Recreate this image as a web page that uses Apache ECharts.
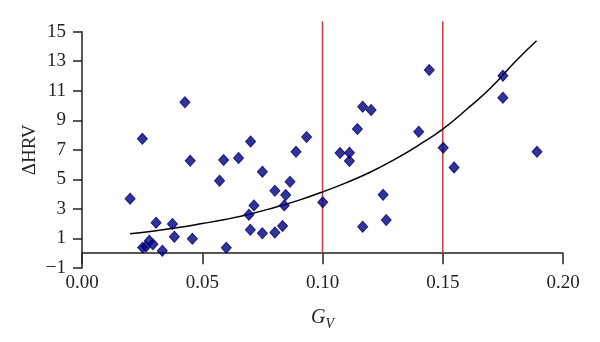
<!DOCTYPE html>
<html>
<head>
<meta charset="utf-8">
<script src="https://cdn.jsdelivr.net/npm/echarts@6/dist/echarts.min.js"></script>
<style>
html,body{margin:0;padding:0;background:#fff;}
#chart{width:600px;height:342px;}
</style>
</head>
<body>
<div id="chart"></div>
<script>
// Scatter data: G_V and ΔHRV
const gv = [0.020,0.0251,0.0252,0.0266,0.028,0.0295,0.0308,0.0334,0.0376,0.0384,0.0428,0.045,0.0459,
  0.0572,0.0589,0.060,0.0651,0.0694,0.0701,0.070,0.0715,0.075,0.075,0.0802,0.0802,0.0834,0.0841,0.0847,0.0865,
  0.089,0.0934,0.1001,0.1073,0.1112,0.1112,0.1145,0.1167,0.1167,0.1202,0.1252,0.1265,0.140,0.1444,0.1502,0.1547,
  0.175,0.175,0.1892];
const dhrv = [3.69,7.75,0.38,0.45,0.85,0.6,2.07,0.17,1.98,1.12,10.22,6.26,0.98,
  4.91,6.31,0.37,6.45,2.61,7.57,1.59,3.24,5.52,1.35,4.23,1.41,1.84,3.24,3.94,4.84,
  6.87,7.87,3.45,6.78,6.81,6.24,8.41,9.92,1.80,9.70,3.96,2.25,8.23,12.40,7.14,5.81,
  12.02,10.53,6.87];
// Trend curve points
const trendX = [0.020,0.030,0.040,0.050,0.060,0.070,0.080,0.090,0.100,0.110,0.120,0.130,0.140,0.150,0.160,0.170,0.180,0.189];
const trendY = [1.32,1.51,1.74,2.01,2.30,2.66,3.10,3.58,4.15,4.78,5.50,6.35,7.32,8.40,9.75,11.20,12.95,14.39];
// Red vertical threshold lines
const thresholds = [0.10, 0.15];
const thresholdSpan = [0, 15.7];
// Axis ticks
const yTicks = [-1,1,3,5,7,9,11,13,15];
const xTicks = [0.00,0.05,0.10,0.15,0.20];

const FONT = '"Liberation Serif", "DejaVu Serif", serif';
const chart = echarts.init(document.getElementById('chart'));

const series = [{
  type: 'scatter',
  data: gv.map((x,i)=>[x, dhrv[i]]),
  symbol: 'diamond',
  symbolSize: [10, 11],
  itemStyle: {color: '#000080', borderColor: '#000070', borderWidth: 1},
  z: 5
},{
  type: 'line',
  data: trendX.map((x,i)=>[x, trendY[i]]),
  smooth: true,
  showSymbol: false,
  lineStyle: {color: '#000', width: 1.5},
  clip: false,
  z: 4
}];
thresholds.forEach(t => {
  series.push({
    type: 'line',
    data: thresholdSpan.map(y => [t, y]),
    showSymbol: false,
    lineStyle: {color: '#d43a3a', width: 1.5},
    clip: false,
    z: 3
  });
});

chart.setOption({
  animation: false,
  backgroundColor: '#fff',
  grid: {left: 82, right: 37, top: 31.7, bottom: 74, outerBoundsMode: 'none', containLabel: false},
  xAxis: {
    type: 'value', min: 0, max: 0.2, interval: 0.05,
    axisLine: {onZero: true, lineStyle: {color: '#222', width: 1.5}},
    axisTick: {length: 11, lineStyle: {color: '#222', width: 1.5}},
    axisLabel: {margin: 6, color: '#222', fontFamily: FONT, fontSize: 19,
      formatter: v => v.toFixed(2)},
    splitLine: {show: false},
    name: '{i|G}{s|V}',
    nameLocation: 'middle',
    nameGap: 37,
    nameMoveOverlap: false,
    nameTextStyle: {rich: {
      i: {fontFamily: FONT, fontStyle: 'italic', fontSize: 20, color: '#222'},
      s: {fontFamily: FONT, fontStyle: 'italic', fontSize: 14, color: '#222', padding: [12,0,0,0]}
    }}
  },
  yAxis: {
    type: 'value', min: -1, max: 15,
    axisLine: {onZero: false, lineStyle: {color: '#222', width: 1.5}},
    axisTick: {length: 9, customValues: yTicks, lineStyle: {color: '#222', width: 1.5}},
    axisLabel: {margin: 16, customValues: yTicks, color: '#222', fontFamily: FONT, fontSize: 19,
      formatter: v => v < 0 ? '\u2212' + Math.abs(v) : String(v)},
    splitLine: {show: false},
    name: 'ΔHRV',
    nameLocation: 'middle',
    nameGap: 42,
    nameMoveOverlap: false,
    nameTextStyle: {fontFamily: FONT, fontSize: 19, color: '#222'}
  },
  series: series
});
</script>
</body>
</html>
